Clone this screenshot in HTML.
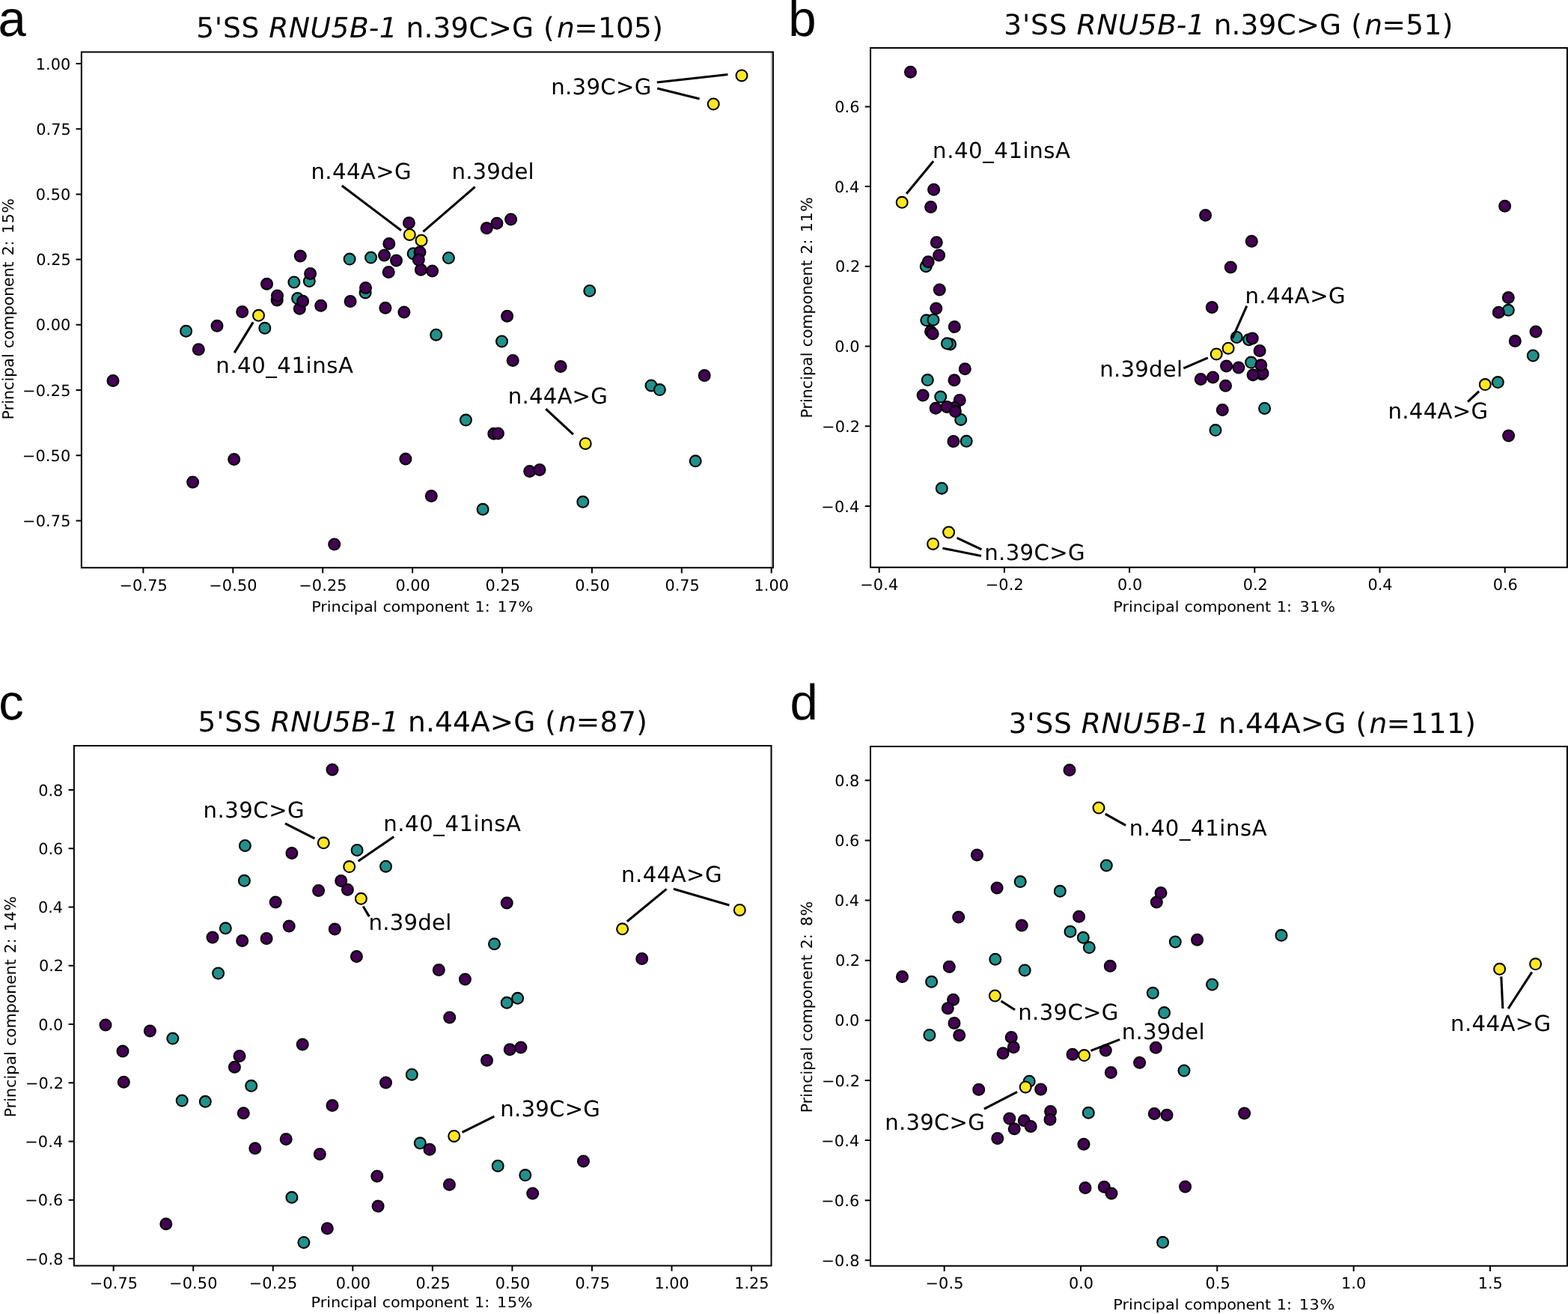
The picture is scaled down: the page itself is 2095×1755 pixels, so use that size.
<!DOCTYPE html>
<html lang="en"><head><meta charset="utf-8"><title>PCA of splice-site usage: RNU5B-1 variants</title>
<style>
html,body{margin:0;padding:0;background:#fff}
body{width:2095px;height:1755px;overflow:hidden}
svg{display:block}
text{font-family:'DejaVu Sans', Verdana, 'Liberation Sans', sans-serif;fill:#000;text-rendering:geometricPrecision}
.tk{font-size:20.83px}
.an{font-size:29.17px}
.ti{font-size:37.5px}
.pl{font-family:'Liberation Sans', Arial, Helvetica, sans-serif;font-size:67px}
.pt circle{stroke:#000;stroke-width:2.1}
.P{fill:#440154}
.T{fill:#21918c}
.Y{fill:#fde725}
.ln line{stroke:#000;stroke-width:3.1}
.ax{stroke:#000;stroke-width:2.0;fill:none}
</style></head>
<body>
<svg width="2095" height="1755" viewBox="0 0 2095 1755" role="img" aria-label="Principal component analysis scatter plots, panels a to d">
<rect width="2095" height="1755" fill="#fff"/>
<g id="panel-a">
<g class="pt"><circle class="P" cx="151" cy="508.4" r="7.45"/><circle class="T" cx="248.6" cy="442.3" r="7.45"/><circle class="P" cx="265.3" cy="466.7" r="7.45"/><circle class="P" cx="290" cy="435.3" r="7.45"/><circle class="P" cx="323.7" cy="416.6" r="7.45"/><circle class="Y" cx="345.5" cy="421.3" r="7.45"/><circle class="T" cx="353.8" cy="438.3" r="7.45"/><circle class="P" cx="356.5" cy="379.2" r="7.45"/><circle class="P" cx="370.2" cy="400.9" r="7.45"/><circle class="P" cx="370.5" cy="394.9" r="7.45"/><circle class="T" cx="392.9" cy="376.9" r="7.45"/><circle class="T" cx="397.6" cy="398.6" r="7.45"/><circle class="P" cx="400.3" cy="412.3" r="7.45"/><circle class="P" cx="404.6" cy="402.3" r="7.45"/><circle class="P" cx="401.3" cy="342.1" r="7.45"/><circle class="T" cx="413.3" cy="375.5" r="7.45"/><circle class="P" cx="414.6" cy="365.5" r="7.45"/><circle class="P" cx="428.7" cy="408.3" r="7.45"/><circle class="T" cx="467.1" cy="346.1" r="7.45"/><circle class="P" cx="468.1" cy="402.6" r="7.45"/><circle class="T" cx="488.1" cy="390.9" r="7.45"/><circle class="P" cx="488.5" cy="384.5" r="7.45"/><circle class="T" cx="495.5" cy="344.1" r="7.45"/><circle class="P" cx="513.5" cy="341" r="7.45"/><circle class="P" cx="514.9" cy="411.3" r="7.45"/><circle class="P" cx="519.2" cy="363.5" r="7.45"/><circle class="P" cx="519.8" cy="325.6" r="7.45"/><circle class="P" cx="529.5" cy="347.9" r="7.45"/><circle class="P" cx="539.9" cy="417" r="7.45"/><circle class="P" cx="546.4" cy="297.8" r="7.45"/><circle class="Y" cx="547.3" cy="313.4" r="7.45"/><circle class="T" cx="552.1" cy="338.7" r="7.45"/><circle class="P" cx="562.4" cy="360.2" r="7.45"/><circle class="P" cx="561" cy="336.7" r="7.45"/><circle class="P" cx="559.3" cy="347" r="7.45"/><circle class="Y" cx="563" cy="321.2" r="7.45"/><circle class="P" cx="577.6" cy="361.9" r="7.45"/><circle class="T" cx="582.7" cy="447.2" r="7.45"/><circle class="T" cx="599.4" cy="344.5" r="7.45"/><circle class="P" cx="650.2" cy="304.7" r="7.45"/><circle class="P" cx="663.9" cy="298.3" r="7.45"/><circle class="P" cx="682.6" cy="293" r="7.45"/><circle class="P" cx="677.6" cy="422.2" r="7.45"/><circle class="T" cx="670.5" cy="455.9" r="7.45"/><circle class="P" cx="685.2" cy="481.4" r="7.45"/><circle class="T" cx="622.4" cy="561.1" r="7.45"/><circle class="P" cx="659.8" cy="579.2" r="7.45"/><circle class="P" cx="665.4" cy="578.9" r="7.45"/><circle class="P" cx="749.1" cy="489.6" r="7.45"/><circle class="T" cx="787.8" cy="388.5" r="7.45"/><circle class="T" cx="870" cy="514.9" r="7.45"/><circle class="T" cx="881.4" cy="520.6" r="7.45"/><circle class="P" cx="941.2" cy="501.6" r="7.45"/><circle class="Y" cx="991" cy="100.9" r="7.45"/><circle class="Y" cx="953.2" cy="139" r="7.45"/><circle class="Y" cx="782.2" cy="592.4" r="7.45"/><circle class="T" cx="929.2" cy="615.8" r="7.45"/><circle class="P" cx="707.7" cy="629.5" r="7.45"/><circle class="P" cx="721" cy="627.5" r="7.45"/><circle class="T" cx="778.8" cy="670.3" r="7.45"/><circle class="P" cx="312.7" cy="613.5" r="7.45"/><circle class="P" cx="257.6" cy="643.9" r="7.45"/><circle class="P" cx="541.9" cy="613.1" r="7.45"/><circle class="P" cx="576.3" cy="662.6" r="7.45"/><circle class="T" cx="645.1" cy="680.3" r="7.45"/><circle class="P" cx="446.7" cy="727.1" r="7.45"/></g>
<line x1="1030.85" y1="69.4" x2="1030.85" y2="758.2" stroke="#a8a8a8" stroke-width="1.4"/><path class="ax" d="M108.85 69.4H1032.9V758.2H108.85ZM191.4 758.2v7.3M311.3 758.2v7.3M431.2 758.2v7.3M551.1 758.2v7.3M671 758.2v7.3M790.9 758.2v7.3M910.8 758.2v7.3M1030.7 758.2v7.3M108.85 84.97h-7.3M108.85 172.18h-7.3M108.85 259.38h-7.3M108.85 346.59h-7.3M108.85 433.8h-7.3M108.85 521.01h-7.3M108.85 608.22h-7.3M108.85 695.42h-7.3"/>
</g>
<g id="panel-b">
<g class="pt"><circle class="P" cx="1216.5" cy="96.2" r="7.45"/><circle class="Y" cx="1205.2" cy="270.3" r="7.45"/><circle class="P" cx="1247.6" cy="253.2" r="7.45"/><circle class="P" cx="1243.6" cy="276.6" r="7.45"/><circle class="P" cx="1251.3" cy="323.7" r="7.45"/><circle class="P" cx="1254.6" cy="341.1" r="7.45"/><circle class="T" cx="1237.2" cy="355.8" r="7.45"/><circle class="P" cx="1240.2" cy="349.8" r="7.45"/><circle class="P" cx="1255.3" cy="386.9" r="7.45"/><circle class="P" cx="1250.8" cy="412.1" r="7.45"/><circle class="T" cx="1237.8" cy="427.8" r="7.45"/><circle class="T" cx="1247" cy="427.2" r="7.45"/><circle class="P" cx="1275.3" cy="436.6" r="7.45"/><circle class="P" cx="1243.5" cy="442.7" r="7.45"/><circle class="P" cx="1246.2" cy="445.8" r="7.45"/><circle class="T" cx="1269.6" cy="459.8" r="7.45"/><circle class="T" cx="1265.4" cy="458.8" r="7.45"/><circle class="P" cx="1289.3" cy="492.8" r="7.45"/><circle class="T" cx="1239.3" cy="507.6" r="7.45"/><circle class="P" cx="1275" cy="507.7" r="7.45"/><circle class="P" cx="1233.1" cy="528.1" r="7.45"/><circle class="P" cx="1282.2" cy="534.5" r="7.45"/><circle class="T" cx="1256.7" cy="530.1" r="7.45"/><circle class="P" cx="1250.2" cy="545.3" r="7.45"/><circle class="P" cx="1275.5" cy="544.4" r="7.45"/><circle class="P" cx="1265.1" cy="543.4" r="7.45"/><circle class="T" cx="1283.7" cy="560.4" r="7.45"/><circle class="P" cx="1276.4" cy="549.6" r="7.45"/><circle class="P" cx="1273.9" cy="589.5" r="7.45"/><circle class="T" cx="1291.2" cy="589.3" r="7.45"/><circle class="T" cx="1258.3" cy="652.2" r="7.45"/><circle class="Y" cx="1267.6" cy="711" r="7.45"/><circle class="Y" cx="1246.6" cy="726.4" r="7.45"/><circle class="P" cx="1610.6" cy="287.6" r="7.45"/><circle class="P" cx="1672.3" cy="322.3" r="7.45"/><circle class="P" cx="1644.3" cy="357" r="7.45"/><circle class="P" cx="1619.3" cy="410.6" r="7.45"/><circle class="T" cx="1652.3" cy="450.5" r="7.45"/><circle class="T" cx="1668.5" cy="453.8" r="7.45"/><circle class="P" cx="1673.3" cy="451.9" r="7.45"/><circle class="Y" cx="1641.1" cy="465.2" r="7.45"/><circle class="Y" cx="1625.2" cy="472.9" r="7.45"/><circle class="P" cx="1683.1" cy="468.5" r="7.45"/><circle class="T" cx="1671.6" cy="484.1" r="7.45"/><circle class="T" cx="1685.8" cy="499.8" r="7.45"/><circle class="P" cx="1687.1" cy="498.4" r="7.45"/><circle class="P" cx="1684.8" cy="487.8" r="7.45"/><circle class="P" cx="1638.6" cy="489" r="7.45"/><circle class="P" cx="1654.9" cy="491.1" r="7.45"/><circle class="P" cx="1674.1" cy="500.7" r="7.45"/><circle class="P" cx="1604.3" cy="506.5" r="7.45"/><circle class="P" cx="1620.6" cy="503.9" r="7.45"/><circle class="P" cx="1637.5" cy="515.3" r="7.45"/><circle class="P" cx="1633.3" cy="547.6" r="7.45"/><circle class="T" cx="1689.6" cy="545.4" r="7.45"/><circle class="T" cx="1624" cy="574.6" r="7.45"/><circle class="P" cx="2010.6" cy="275.3" r="7.45"/><circle class="P" cx="2015.3" cy="397.6" r="7.45"/><circle class="T" cx="2015.3" cy="414.3" r="7.45"/><circle class="P" cx="2002.3" cy="417.3" r="7.45"/><circle class="P" cx="2052" cy="443" r="7.45"/><circle class="P" cx="2024.3" cy="455.6" r="7.45"/><circle class="T" cx="2048.3" cy="475" r="7.45"/><circle class="T" cx="2001.3" cy="510.6" r="7.45"/><circle class="Y" cx="1984.3" cy="513.6" r="7.45"/><circle class="P" cx="2015.6" cy="582.1" r="7.45"/></g>
<path class="ax" d="M1163.06 64H2093.9V757.7H1163.06ZM1174.7 757.7v7.3M1341.9 757.7v7.3M1509.1 757.7v7.3M1676.3 757.7v7.3M1843.5 757.7v7.3M2010.7 757.7v7.3M1163.06 142.4h-7.3M1163.06 249.1h-7.3M1163.06 355.8h-7.3M1163.06 462.5h-7.3M1163.06 569.2h-7.3M1163.06 675.9h-7.3"/>
</g>
<g id="panel-c">
<g class="pt"><circle class="P" cx="444" cy="1027.9" r="7.45"/><circle class="Y" cx="432.3" cy="1125.8" r="7.45"/><circle class="T" cx="327.4" cy="1129.5" r="7.45"/><circle class="P" cx="389.9" cy="1139.5" r="7.45"/><circle class="T" cx="477.1" cy="1135.5" r="7.45"/><circle class="Y" cx="466.7" cy="1157.6" r="7.45"/><circle class="T" cx="515.5" cy="1157.2" r="7.45"/><circle class="T" cx="326.4" cy="1176.3" r="7.45"/><circle class="P" cx="455.7" cy="1176.6" r="7.45"/><circle class="P" cx="464.4" cy="1188.3" r="7.45"/><circle class="P" cx="425.6" cy="1189.6" r="7.45"/><circle class="Y" cx="482.4" cy="1200.3" r="7.45"/><circle class="P" cx="368.2" cy="1205" r="7.45"/><circle class="P" cx="677.2" cy="1206" r="7.45"/><circle class="T" cx="301.3" cy="1239.8" r="7.45"/><circle class="P" cx="386.2" cy="1237.1" r="7.45"/><circle class="P" cx="447.3" cy="1241.1" r="7.45"/><circle class="P" cx="284" cy="1252.1" r="7.45"/><circle class="P" cx="323.7" cy="1256.5" r="7.45"/><circle class="P" cx="356.1" cy="1253.5" r="7.45"/><circle class="T" cx="660.5" cy="1260.8" r="7.45"/><circle class="P" cx="476.4" cy="1277.5" r="7.45"/><circle class="T" cx="291.6" cy="1299.9" r="7.45"/><circle class="P" cx="586.3" cy="1295.6" r="7.45"/><circle class="P" cx="621.4" cy="1307.9" r="7.45"/><circle class="T" cx="691.6" cy="1333.3" r="7.45"/><circle class="T" cx="677.2" cy="1339.3" r="7.45"/><circle class="P" cx="600.7" cy="1359" r="7.45"/><circle class="P" cx="141" cy="1369.1" r="7.45"/><circle class="P" cx="200.4" cy="1377.1" r="7.45"/><circle class="T" cx="230.8" cy="1387.1" r="7.45"/><circle class="P" cx="404.2" cy="1395.1" r="7.45"/><circle class="P" cx="164" cy="1404.1" r="7.45"/><circle class="P" cx="681.2" cy="1401.8" r="7.45"/><circle class="P" cx="695.9" cy="1399.1" r="7.45"/><circle class="P" cx="313.4" cy="1425.2" r="7.45"/><circle class="P" cx="320" cy="1410.5" r="7.45"/><circle class="P" cx="650.5" cy="1416.2" r="7.45"/><circle class="T" cx="550.3" cy="1435.2" r="7.45"/><circle class="P" cx="165.3" cy="1445.2" r="7.45"/><circle class="P" cx="515.5" cy="1445.9" r="7.45"/><circle class="T" cx="335.7" cy="1450.3" r="7.45"/><circle class="T" cx="243.2" cy="1470" r="7.45"/><circle class="T" cx="274.3" cy="1471.3" r="7.45"/><circle class="P" cx="444" cy="1476.6" r="7.45"/><circle class="P" cx="325.3" cy="1486.7" r="7.45"/><circle class="Y" cx="606.7" cy="1517.4" r="7.45"/><circle class="T" cx="561.3" cy="1526.8" r="7.45"/><circle class="P" cx="574" cy="1535.2" r="7.45"/><circle class="P" cx="382.2" cy="1521.4" r="7.45"/><circle class="P" cx="340.8" cy="1533.8" r="7.45"/><circle class="P" cx="427.3" cy="1541.5" r="7.45"/><circle class="T" cx="665.2" cy="1557.2" r="7.45"/><circle class="T" cx="701.8" cy="1569.6" r="7.45"/><circle class="P" cx="503.8" cy="1570.9" r="7.45"/><circle class="P" cx="600.4" cy="1582.3" r="7.45"/><circle class="T" cx="389.9" cy="1599.3" r="7.45"/><circle class="P" cx="505.1" cy="1611" r="7.45"/><circle class="P" cx="221.8" cy="1634.7" r="7.45"/><circle class="P" cx="437.3" cy="1640.7" r="7.45"/><circle class="T" cx="405.9" cy="1659.4" r="7.45"/><circle class="Y" cx="831.6" cy="1240.8" r="7.45"/><circle class="Y" cx="988.3" cy="1215.4" r="7.45"/><circle class="P" cx="857.7" cy="1280.5" r="7.45"/><circle class="P" cx="779.5" cy="1550.9" r="7.45"/><circle class="P" cx="711.7" cy="1594" r="7.45"/></g>
<path class="ax" d="M98.9 996.06H1030.5V1690.5H98.9ZM151.65 1690.5v7.3M258.2 1690.5v7.3M364.75 1690.5v7.3M471.3 1690.5v7.3M577.85 1690.5v7.3M684.4 1690.5v7.3M790.95 1690.5v7.3M897.5 1690.5v7.3M1004.05 1690.5v7.3M98.9 1054.97h-7.3M98.9 1133.24h-7.3M98.9 1211.5h-7.3M98.9 1289.77h-7.3M98.9 1368.03h-7.3M98.9 1446.29h-7.3M98.9 1524.56h-7.3M98.9 1602.82h-7.3M98.9 1681.09h-7.3"/>
</g>
<g id="panel-d">
<g class="pt"><circle class="P" cx="1429" cy="1028.6" r="7.45"/><circle class="Y" cx="1468" cy="1079" r="7.45"/><circle class="P" cx="1305.4" cy="1141.9" r="7.45"/><circle class="T" cx="1478.3" cy="1156" r="7.45"/><circle class="T" cx="1363.2" cy="1177.6" r="7.45"/><circle class="P" cx="1332.1" cy="1186" r="7.45"/><circle class="T" cx="1416.3" cy="1190.3" r="7.45"/><circle class="P" cx="1545.3" cy="1205" r="7.45"/><circle class="P" cx="1551" cy="1192.6" r="7.45"/><circle class="P" cx="1280.7" cy="1225.1" r="7.45"/><circle class="P" cx="1441.6" cy="1224.3" r="7.45"/><circle class="P" cx="1365.2" cy="1236.1" r="7.45"/><circle class="T" cx="1430" cy="1244.3" r="7.45"/><circle class="T" cx="1447.3" cy="1252.3" r="7.45"/><circle class="T" cx="1455.3" cy="1265.6" r="7.45"/><circle class="T" cx="1570.3" cy="1258" r="7.45"/><circle class="P" cx="1599.6" cy="1255.3" r="7.45"/><circle class="T" cx="1712" cy="1249.3" r="7.45"/><circle class="T" cx="1329.8" cy="1281.2" r="7.45"/><circle class="P" cx="1268.3" cy="1291.2" r="7.45"/><circle class="P" cx="1483.3" cy="1290.3" r="7.45"/><circle class="T" cx="1369.2" cy="1295.9" r="7.45"/><circle class="P" cx="1205.5" cy="1304.6" r="7.45"/><circle class="T" cx="1244.6" cy="1311.3" r="7.45"/><circle class="T" cx="1619.6" cy="1315" r="7.45"/><circle class="T" cx="1540.3" cy="1326.3" r="7.45"/><circle class="Y" cx="1329.4" cy="1330" r="7.45"/><circle class="P" cx="1273.6" cy="1335.3" r="7.45"/><circle class="P" cx="1266.3" cy="1346.7" r="7.45"/><circle class="T" cx="1555.6" cy="1352.6" r="7.45"/><circle class="P" cx="1275" cy="1366.4" r="7.45"/><circle class="T" cx="1241.9" cy="1382.4" r="7.45"/><circle class="P" cx="1281.7" cy="1382.8" r="7.45"/><circle class="P" cx="1351.2" cy="1385.4" r="7.45"/><circle class="P" cx="1354.2" cy="1398.8" r="7.45"/><circle class="P" cx="1340.1" cy="1406.8" r="7.45"/><circle class="Y" cx="2003.6" cy="1294.3" r="7.45"/><circle class="Y" cx="2051.6" cy="1287.6" r="7.45"/><circle class="P" cx="1433" cy="1408.3" r="7.45"/><circle class="Y" cx="1448.6" cy="1409.6" r="7.45"/><circle class="P" cx="1477.3" cy="1403" r="7.45"/><circle class="P" cx="1544.3" cy="1399.3" r="7.45"/><circle class="P" cx="1522.6" cy="1419.3" r="7.45"/><circle class="P" cx="1484.3" cy="1432.6" r="7.45"/><circle class="T" cx="1582" cy="1430" r="7.45"/><circle class="T" cx="1375.2" cy="1444.2" r="7.45"/><circle class="Y" cx="1370.2" cy="1451.9" r="7.45"/><circle class="P" cx="1390.6" cy="1454.9" r="7.45"/><circle class="P" cx="1307.7" cy="1455.3" r="7.45"/><circle class="P" cx="1348.8" cy="1494.1" r="7.45"/><circle class="P" cx="1355.2" cy="1507.8" r="7.45"/><circle class="P" cx="1368.2" cy="1496.7" r="7.45"/><circle class="P" cx="1377.2" cy="1504.4" r="7.45"/><circle class="P" cx="1332.8" cy="1520.5" r="7.45"/><circle class="P" cx="1403.6" cy="1484.6" r="7.45"/><circle class="P" cx="1403" cy="1495.3" r="7.45"/><circle class="T" cx="1454.3" cy="1486.3" r="7.45"/><circle class="P" cx="1542.3" cy="1487.6" r="7.45"/><circle class="P" cx="1559" cy="1489.3" r="7.45"/><circle class="P" cx="1662.6" cy="1487" r="7.45"/><circle class="P" cx="1448" cy="1528.3" r="7.45"/><circle class="P" cx="1450" cy="1586.6" r="7.45"/><circle class="P" cx="1475.3" cy="1585.3" r="7.45"/><circle class="P" cx="1485" cy="1594" r="7.45"/><circle class="P" cx="1583.6" cy="1585" r="7.45"/><circle class="T" cx="1553.6" cy="1659.3" r="7.45"/></g>
<path class="ax" d="M1163 996.88H2093.9V1690.7H1163ZM1261.7 1690.7v7.3M1444 1690.7v7.3M1626.3 1690.7v7.3M1808.6 1690.7v7.3M1990.9 1690.7v7.3M1163 1042.34h-7.3M1163 1122.45h-7.3M1163 1202.57h-7.3M1163 1282.68h-7.3M1163 1362.8h-7.3M1163 1442.92h-7.3M1163 1523.03h-7.3M1163 1603.15h-7.3M1163 1683.26h-7.3"/>
</g>
<g class="ln"><line x1="877.8" y1="109.95" x2="972.4" y2="99.55"/><line x1="878.2" y1="117.95" x2="934.6" y2="131.95"/><line x1="456.8" y1="247.95" x2="536" y2="307.75"/><line x1="634.6" y1="249.65" x2="565.4" y2="309.45"/><line x1="338.2" y1="430.35" x2="313.2" y2="471.15"/><line x1="729.2" y1="546.05" x2="765.9" y2="580.15"/><line x1="1247.1" y1="215.35" x2="1211.1" y2="258.85"/><line x1="1665.8" y1="408.65" x2="1646.6" y2="451.85"/><line x1="1581.3" y1="491.95" x2="1613.9" y2="477.85"/><line x1="1961.1" y1="536.65" x2="1976.1" y2="522.65"/><line x1="1278.5" y1="718.45" x2="1311.5" y2="733.85"/><line x1="1259.4" y1="732.15" x2="1310.9" y2="742.45"/><line x1="381" y1="1099.85" x2="420.4" y2="1119.85"/><line x1="526.3" y1="1117.55" x2="478.5" y2="1150.25"/><line x1="485.2" y1="1210.45" x2="493.3" y2="1224.15"/><line x1="890.5" y1="1187.35" x2="837.8" y2="1230.75"/><line x1="899.9" y1="1187.35" x2="974.4" y2="1209.05"/><line x1="660.3" y1="1491.05" x2="617.5" y2="1512.45"/><line x1="1476.8" y1="1087.05" x2="1504.1" y2="1102.35"/><line x1="1337.6" y1="1337.05" x2="1356" y2="1348.75"/><line x1="1457.4" y1="1403.35" x2="1496.1" y2="1388.35"/><line x1="1359" y1="1458.35" x2="1314.9" y2="1481.05"/><line x1="2005.8" y1="1304.35" x2="2007.8" y2="1347.05"/><line x1="2046.8" y1="1298.35" x2="2015.1" y2="1347.05"/></g>
<text x="159.4" y="788.7" font-size="20.83" style="letter-spacing:0.15px">−0.75</text>
<text x="279.18" y="788.7" font-size="20.83" style="letter-spacing:0.15px">−0.50</text>
<text x="399.2" y="788.7" font-size="20.83" style="letter-spacing:0.15px">−0.25</text>
<text x="528.48" y="788.7" font-size="20.83">0.00</text>
<text x="648.62" y="788.7" font-size="20.83">0.25</text>
<text x="768.28" y="788.7" font-size="20.83">0.50</text>
<text x="888.43" y="788.7" font-size="20.83">0.75</text>
<text x="1007.58" y="788.7" font-size="20.83">1.00</text>
<text x="47.85" y="92.57" font-size="20.83">1.00</text>
<text x="48.35" y="179.78" font-size="20.83">0.75</text>
<text x="47.85" y="266.99" font-size="20.83">0.50</text>
<text x="48.35" y="354.19" font-size="20.83">0.25</text>
<text x="47.85" y="441.4" font-size="20.83">0.00</text>
<text x="30.1" y="528.61" font-size="20.83" style="letter-spacing:0.15px">−0.25</text>
<text x="29.85" y="615.82" font-size="20.83" style="letter-spacing:0.15px">−0.50</text>
<text x="30.1" y="703.02" font-size="20.83" style="letter-spacing:0.15px">−0.75</text>
<text x="1149.2" y="788.2" font-size="20.83" style="letter-spacing:0.15px">−0.4</text>
<text x="1316.77" y="788.2" font-size="20.83" style="letter-spacing:0.15px">−0.2</text>
<text x="1493.1" y="788.2" font-size="20.83">0.0</text>
<text x="1660.67" y="788.2" font-size="20.83">0.2</text>
<text x="1827.38" y="788.2" font-size="20.83">0.4</text>
<text x="1994.7" y="788.2" font-size="20.83">0.6</text>
<text x="1115.31" y="150" font-size="20.83">0.6</text>
<text x="1115.06" y="256.7" font-size="20.83">0.4</text>
<text x="1116.06" y="363.4" font-size="20.83">0.2</text>
<text x="1115.31" y="470.1" font-size="20.83">0.0</text>
<text x="1098.06" y="576.8" font-size="20.83" style="letter-spacing:0.15px">−0.2</text>
<text x="1097.31" y="683.5" font-size="20.83" style="letter-spacing:0.15px">−0.4</text>
<text x="119.65" y="1721" font-size="20.83" style="letter-spacing:0.15px">−0.75</text>
<text x="226.08" y="1721" font-size="20.83" style="letter-spacing:0.15px">−0.50</text>
<text x="332.75" y="1721" font-size="20.83" style="letter-spacing:0.15px">−0.25</text>
<text x="448.68" y="1721" font-size="20.83">0.00</text>
<text x="555.48" y="1721" font-size="20.83">0.25</text>
<text x="661.77" y="1721" font-size="20.83">0.50</text>
<text x="768.58" y="1721" font-size="20.83">0.75</text>
<text x="874.38" y="1721" font-size="20.83">1.00</text>
<text x="981.17" y="1721" font-size="20.83">1.25</text>
<text x="51.15" y="1062.57" font-size="20.83">0.8</text>
<text x="51.15" y="1140.84" font-size="20.83">0.6</text>
<text x="50.9" y="1219.1" font-size="20.83">0.4</text>
<text x="51.9" y="1297.37" font-size="20.83">0.2</text>
<text x="51.15" y="1375.63" font-size="20.83">0.0</text>
<text x="33.9" y="1453.89" font-size="20.83" style="letter-spacing:0.15px">−0.2</text>
<text x="33.15" y="1532.16" font-size="20.83" style="letter-spacing:0.15px">−0.4</text>
<text x="33.15" y="1610.42" font-size="20.83" style="letter-spacing:0.15px">−0.6</text>
<text x="33.4" y="1688.69" font-size="20.83" style="letter-spacing:0.15px">−0.8</text>
<text x="1236.45" y="1721.2" font-size="20.83" style="letter-spacing:0.15px">−0.5</text>
<text x="1428" y="1721.2" font-size="20.83">0.0</text>
<text x="1610.55" y="1721.2" font-size="20.83">0.5</text>
<text x="1792.1" y="1721.2" font-size="20.83">1.0</text>
<text x="1974.65" y="1721.2" font-size="20.83">1.5</text>
<text x="1115.25" y="1049.94" font-size="20.83">0.8</text>
<text x="1115.25" y="1130.05" font-size="20.83">0.6</text>
<text x="1115" y="1210.17" font-size="20.83">0.4</text>
<text x="1116" y="1290.28" font-size="20.83">0.2</text>
<text x="1115.25" y="1370.4" font-size="20.83">0.0</text>
<text x="1098" y="1450.52" font-size="20.83" style="letter-spacing:0.15px">−0.2</text>
<text x="1097.25" y="1530.63" font-size="20.83" style="letter-spacing:0.15px">−0.4</text>
<text x="1097.25" y="1610.75" font-size="20.83" style="letter-spacing:0.15px">−0.6</text>
<text x="1097.5" y="1690.86" font-size="20.83" style="letter-spacing:0.15px">−0.8</text>
<text x="736.2" y="126" font-size="29.17" style="letter-spacing:0.325px">n.39C&gt;G</text>
<text x="415.5" y="239.2" font-size="29.17" style="letter-spacing:0.367px">n.44A&gt;G</text>
<text x="603.6" y="239.2" font-size="29.17" style="letter-spacing:0.092px">n.39del</text>
<text x="288.2" y="497.8" font-size="29.17" style="letter-spacing:0.55px">n.40_41insA</text>
<text x="678.8" y="538.7" font-size="29.17" style="letter-spacing:0.2px">n.44A&gt;G</text>
<text x="1246.1" y="211" font-size="29.17" style="letter-spacing:0.56px">n.40_41insA</text>
<text x="1663.5" y="404.5" font-size="29.17" style="letter-spacing:0.367px">n.44A&gt;G</text>
<text x="1469.3" y="502.5" font-size="29.17" style="letter-spacing:0.242px">n.39del</text>
<text x="1854.4" y="558.8" font-size="29.17" style="letter-spacing:0.333px">n.44A&gt;G</text>
<text x="1315.2" y="747.5" font-size="29.17" style="letter-spacing:0.375px">n.39C&gt;G</text>
<text x="271.4" y="1091.8" font-size="29.17" style="letter-spacing:0.508px">n.39C&gt;G</text>
<text x="512.3" y="1109.8" font-size="29.17" style="letter-spacing:0.54px">n.40_41insA</text>
<text x="492.6" y="1241.5" font-size="29.17" style="letter-spacing:0.208px">n.39del</text>
<text x="830.1" y="1178" font-size="29.17" style="letter-spacing:0.433px">n.44A&gt;G</text>
<text x="668.3" y="1491.4" font-size="29.17" style="letter-spacing:0.225px">n.39C&gt;G</text>
<text x="1508.8" y="1116" font-size="29.17" style="letter-spacing:0.57px">n.40_41insA</text>
<text x="1360.3" y="1361.7" font-size="29.17" style="letter-spacing:0.308px">n.39C&gt;G</text>
<text x="1498.8" y="1388.3" font-size="29.17" style="letter-spacing:0.225px">n.39del</text>
<text x="1182.3" y="1508.8" font-size="29.17" style="letter-spacing:0.208px">n.39C&gt;G</text>
<text x="1938.1" y="1376.7" font-size="29.17" style="letter-spacing:0.383px">n.44A&gt;G</text>
<text transform="translate(0 816.7) scale(1 0.93)" y="0" font-size="20.83"><tspan x="416.2" style="letter-spacing:-0.069px">Principal </tspan><tspan x="511.4" style="letter-spacing:-0.269px">component </tspan><tspan x="634.55">1: </tspan><tspan x="664.55" style="letter-spacing:0.7px">17%</tspan></text>
<text transform="translate(0 816.7) scale(1 0.93)" y="0" font-size="20.83"><tspan x="1487.3" style="letter-spacing:-0.069px">Principal </tspan><tspan x="1582.5" style="letter-spacing:-0.269px">component </tspan><tspan x="1705.65">1: </tspan><tspan x="1736.4" style="letter-spacing:0.7px">31%</tspan></text>
<text transform="translate(0 1746.3) scale(1 0.93)" y="0" font-size="20.83"><tspan x="415.6" style="letter-spacing:-0.069px">Principal </tspan><tspan x="510.8" style="letter-spacing:-0.269px">component </tspan><tspan x="633.95">1: </tspan><tspan x="663.95" style="letter-spacing:0.7px">15%</tspan></text>
<text transform="translate(0 1749.3) scale(1 0.93)" y="0" font-size="20.83"><tspan x="1487.3" style="letter-spacing:-0.069px">Principal </tspan><tspan x="1582.5" style="letter-spacing:-0.269px">component </tspan><tspan x="1705.65">1: </tspan><tspan x="1735.65" style="letter-spacing:0.7px">13%</tspan></text>
<text transform="translate(18 558.8) rotate(-90)" y="0" font-size="20.5"><tspan x="-1.6" style="letter-spacing:0.087px">Principal </tspan><tspan x="93.85" style="letter-spacing:-0.05px">component </tspan><tspan x="217.5">2: </tspan><tspan x="246.75" style="letter-spacing:0.7px">15%</tspan></text>
<text transform="translate(1084.5 557) rotate(-90)" y="0" font-size="20.5"><tspan x="-1.6" style="letter-spacing:0.087px">Principal </tspan><tspan x="93.85" style="letter-spacing:-0.05px">component </tspan><tspan x="217.5">2: </tspan><tspan x="246.75" style="letter-spacing:0.7px">11%</tspan></text>
<text transform="translate(21.2 1490.7) rotate(-90)" y="0" font-size="20.5"><tspan x="-1.6" style="letter-spacing:0.087px">Principal </tspan><tspan x="93.85" style="letter-spacing:-0.05px">component </tspan><tspan x="217.5">2: </tspan><tspan x="246.75" style="letter-spacing:0.7px">14%</tspan></text>
<text transform="translate(1084.7 1484.7) rotate(-90)" y="0" font-size="20.5"><tspan x="-1.6" style="letter-spacing:0.087px">Principal </tspan><tspan x="93.85" style="letter-spacing:-0.05px">component </tspan><tspan x="217.5">2: </tspan><tspan x="247.75" style="letter-spacing:0.7px">8%</tspan></text>
<text y="49.8" font-size="37.5"><tspan x="262.15" style="letter-spacing:0.8px">5&#x27;SS </tspan><tspan x="359.3" font-style="italic" style="letter-spacing:0.575px">RNU5B-1 </tspan><tspan x="542.6" style="letter-spacing:0.05px">n.39C&gt;G </tspan><tspan x="725.95">(</tspan><tspan x="743.95" font-style="italic">n</tspan><tspan x="767.3" style="letter-spacing:0.225px">=105)</tspan></text>
<text y="45.8" font-size="37.5"><tspan x="1341.35" style="letter-spacing:0.8px">3&#x27;SS </tspan><tspan x="1438.5" font-style="italic" style="letter-spacing:0.575px">RNU5B-1 </tspan><tspan x="1621.8" style="letter-spacing:0.05px">n.39C&gt;G </tspan><tspan x="1805.15">(</tspan><tspan x="1823.15" font-style="italic">n</tspan><tspan x="1846.5" style="letter-spacing:0.367px">=51)</tspan></text>
<text y="977" font-size="37.5"><tspan x="264.55" style="letter-spacing:0.8px">5&#x27;SS </tspan><tspan x="361.7" font-style="italic" style="letter-spacing:0.575px">RNU5B-1 </tspan><tspan x="545" style="letter-spacing:0.133px">n.44A&gt;G </tspan><tspan x="728.35">(</tspan><tspan x="746.35" font-style="italic">n</tspan><tspan x="769.7" style="letter-spacing:0.5px">=87)</tspan></text>
<text y="978.7" font-size="37.5"><tspan x="1347.65" style="letter-spacing:0.8px">3&#x27;SS </tspan><tspan x="1444.8" font-style="italic" style="letter-spacing:0.575px">RNU5B-1 </tspan><tspan x="1628.1" style="letter-spacing:0.133px">n.44A&gt;G </tspan><tspan x="1811.45">(</tspan><tspan x="1829.45" font-style="italic">n</tspan><tspan x="1852.8" style="letter-spacing:0.375px">=111)</tspan></text>
<text x="-2.45" y="48.3" font-size="67" class="pl">a</text>
<text x="1053.25" y="47.7" font-size="67" class="pl">b</text>
<text x="-1.65" y="961.1" font-size="67" class="pl">c</text>
<text x="1055.45" y="961.1" font-size="67" class="pl">d</text>
</svg>
</body></html>
